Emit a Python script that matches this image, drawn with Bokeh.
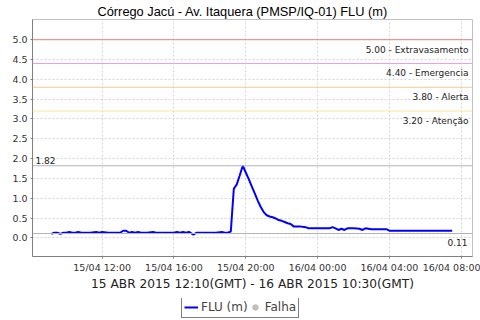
import math
import pandas as pd
from bokeh.plotting import figure
from bokeh.layouts import column
from bokeh.models import (Span, Label, Legend, LegendItem, FixedTicker,
                          DatetimeTickFormatter, Range1d, ColumnDataSource,
                          NumeralTickFormatter)
from bokeh.embed import file_html
from bokeh.resources import INLINE

# ---------------- data (local time, GMT-3) ----------------
times = [
    "2015-04-15 09:10", "2015-04-15 09:20", "2015-04-15 09:30", "2015-04-15 09:40",
    "2015-04-15 09:50", "2015-04-15 10:00", "2015-04-15 10:10", "2015-04-15 10:20",
    "2015-04-15 10:30", "2015-04-15 10:40", "2015-04-15 10:50", "2015-04-15 11:00",
    "2015-04-15 11:20", "2015-04-15 11:40", "2015-04-15 11:50", "2015-04-15 12:00",
    "2015-04-15 12:20", "2015-04-15 12:40", "2015-04-15 13:00", "2015-04-15 13:10",
    "2015-04-15 13:20", "2015-04-15 13:30", "2015-04-15 13:40", "2015-04-15 13:50",
    "2015-04-15 14:00", "2015-04-15 14:10", "2015-04-15 14:30", "2015-04-15 14:50",
    "2015-04-15 15:00", "2015-04-15 15:30", "2015-04-15 16:00", "2015-04-15 16:10",
    "2015-04-15 16:20", "2015-04-15 16:30", "2015-04-15 16:40", "2015-04-15 16:50",
    "2015-04-15 17:05", "2015-04-15 17:15", "2015-04-15 17:30", "2015-04-15 18:00",
    "2015-04-15 18:20", "2015-04-15 18:40", "2015-04-15 18:50", "2015-04-15 19:00",
    "2015-04-15 19:10", "2015-04-15 19:20", "2015-04-15 19:30", "2015-04-15 19:40",
    "2015-04-15 19:50", "2015-04-15 20:00", "2015-04-15 20:10", "2015-04-15 20:20",
    "2015-04-15 20:30", "2015-04-15 20:40", "2015-04-15 20:50", "2015-04-15 21:00",
    "2015-04-15 21:10", "2015-04-15 21:20", "2015-04-15 21:30", "2015-04-15 21:40",
    "2015-04-15 21:50", "2015-04-15 22:00", "2015-04-15 22:10", "2015-04-15 22:20",
    "2015-04-15 22:30", "2015-04-15 22:40", "2015-04-15 23:00", "2015-04-15 23:20",
    "2015-04-15 23:30", "2015-04-16 00:00", "2015-04-16 00:40", "2015-04-16 00:50",
    "2015-04-16 01:00", "2015-04-16 01:10", "2015-04-16 01:20", "2015-04-16 01:30",
    "2015-04-16 01:40", "2015-04-16 02:00", "2015-04-16 02:20", "2015-04-16 02:30",
    "2015-04-16 02:40", "2015-04-16 03:00", "2015-04-16 03:30", "2015-04-16 03:50",
    "2015-04-16 04:00", "2015-04-16 05:00", "2015-04-16 06:00", "2015-04-16 07:00",
    "2015-04-16 07:30",
]
levels = [
    0.10, 0.13, 0.13, 0.10,
    0.13, 0.13, 0.15, 0.13,
    0.13, 0.15, 0.13, 0.13,
    0.13, 0.15, 0.13, 0.15,
    0.13, 0.13, 0.13, 0.18,
    0.18, 0.13, 0.15, 0.13,
    0.15, 0.13, 0.13, 0.15,
    0.13, 0.13, 0.13, 0.15,
    0.13, 0.15, 0.13, 0.15,
    0.08, 0.13, 0.13, 0.13,
    0.13, 0.15, 0.13, 0.13,
    0.16, 1.24, 1.35, 1.58,
    1.82, 1.65, 1.48, 1.30,
    1.12, 0.94, 0.78, 0.65,
    0.57, 0.54, 0.52, 0.49,
    0.45, 0.43, 0.40, 0.37,
    0.35, 0.29, 0.29, 0.27,
    0.24, 0.24, 0.24, 0.27,
    0.24, 0.20, 0.23, 0.20,
    0.24, 0.24, 0.23, 0.20,
    0.24, 0.22, 0.22, 0.22,
    0.18, 0.18, 0.18, 0.18,
    0.18,
]
thresholds = [5.00, 4.40, 3.80, 3.20]
threshold_names = ["Extravasamento", "Emergencia", "Alerta", "Atenção"]
threshold_colors = ["#ee7e7e", "#ee9cee", "#f6c896", "#fae6a0"]
max_level = 1.82
last_level = 0.11
y_ticks = [0.0, 0.5, 1.0, 1.5, 2.0, 2.5, 3.0, 3.5, 4.0, 4.5, 5.0]
x_ticks = ["2015-04-15 12:00", "2015-04-15 16:00", "2015-04-15 20:00",
           "2015-04-16 00:00", "2015-04-16 04:00", "2015-04-16 08:00"]
x_start, x_end = "2015-04-15 08:07", "2015-04-16 08:38"
y_start, y_end = -0.47, 5.51
title_text = "Córrego Jacú - Av. Itaquera (PMSP/IQ-01) FLU (m)"
period_text = "15 ABR 2015 12:10(GMT) - 16 ABR 2015 10:30(GMT)"
series_name = "FLU (m)"
fail_name = "Falha"
fail_times = []      # no failure records in this period
fail_levels = []

def ms(s):
    return pd.Timestamp(s).value / 1e6

FONT = "DejaVu Sans"
LINE_COLOR = "#0000ff"
FAIL_COLOR = "#c0c0c0"

p = figure(width=480, height=298, frame_width=440, frame_height=237,
           x_axis_type="datetime", output_backend="svg", toolbar_location=None,
           title=title_text,
           x_range=Range1d(ms(x_start), ms(x_end)),
           y_range=Range1d(y_start, y_end),
           min_border_left=32, min_border_right=8, min_border_top=19,
           min_border_bottom=42)
p.background_fill_color = "white"
p.border_fill_color = "white"
p.outline_line_color = "#c0c0c0"

p.title.align = "left"
p.title.offset = 65
p.title.text_font = "Liberation Sans"
p.title.text_font_size = "12.8px"
p.title.text_font_style = "normal"
p.title.text_color = "#000000"
p.title.standoff = 2

# grids
for g in (p.xgrid, p.ygrid):
    g.grid_line_color = "#d4d4d4"
    g.grid_line_dash = "2 2"
    g.grid_line_width = 1

# axes
p.yaxis.ticker = FixedTicker(ticks=y_ticks)
p.yaxis.formatter = NumeralTickFormatter(format="0.0")
p.xaxis.ticker = FixedTicker(ticks=[ms(t) for t in x_ticks])
p.xaxis.formatter = DatetimeTickFormatter(hours="%d/%m %H:%M", days="%d/%m %H:%M",
                                          hourmin="%d/%m %H:%M", minutes="%d/%m %H:%M")
p.xaxis.axis_label = period_text
for ax in (p.xaxis[0], p.yaxis[0]):
    ax.axis_line_color = "#808080"
    ax.major_tick_line_color = "#808080"
    ax.major_tick_out = 2
    ax.major_tick_in = 0
    ax.minor_tick_line_color = None
    ax.major_label_text_font = FONT
    ax.major_label_text_font_size = "9.5px"
    ax.major_label_text_color = "#333333"
    ax.major_label_standoff = 3
p.xaxis.axis_label_text_font = FONT
p.xaxis.axis_label_text_font_size = "12.2px"
p.xaxis.axis_label_text_font_style = "normal"
p.xaxis.axis_label_text_color = "#222222"
p.xaxis.axis_label_standoff = 1

# threshold lines and labels
for t, name, c in zip(thresholds, threshold_names, threshold_colors):
    p.add_layout(Span(location=t, dimension="width", line_color=c, line_width=1))
    p.add_layout(Label(x=ms(x_end), y=t, x_offset=-4, y_offset=-5,
                       text=f"{t:.2f} - {name}", text_align="right",
                       text_baseline="top", text_font=FONT,
                       text_font_size="9px", text_color="#222222"))

# max / last lines
p.add_layout(Span(location=max_level, dimension="width", line_color="#b4b4b4", line_width=1))
p.add_layout(Span(location=last_level, dimension="width", line_color="#b4b4b4", line_width=1))
p.add_layout(Label(x=ms(x_start), y=max_level, x_offset=3, y_offset=2,
                   text=f"{max_level:.2f}", text_align="left", text_baseline="bottom",
                   text_font=FONT, text_font_size="9px", text_color="#222222"))
p.add_layout(Label(x=ms(x_end), y=last_level, x_offset=-5, y_offset=-5,
                   text=f"{last_level:.2f}", text_align="right", text_baseline="top",
                   text_font=FONT, text_font_size="9px", text_color="#222222"))

src = ColumnDataSource(dict(t=[ms(s) for s in times], v=levels))
p.line("t", "v", source=src, line_color=LINE_COLOR, line_width=2)
fail_src = ColumnDataSource(dict(t=[ms(s) for s in fail_times], v=fail_levels))
p.scatter("t", "v", source=fail_src, size=9, color=FAIL_COLOR)

# ---------------- legend strip ----------------
q = figure(width=480, height=22, output_backend="svg", toolbar_location=None,
           x_range=Range1d(0, 1), y_range=Range1d(0, 1),
           min_border=0, x_axis_location=None, y_axis_location=None)
q.outline_line_color = None
q.xgrid.visible = False
q.ygrid.visible = False
q.background_fill_color = "white"
q.border_fill_color = "white"
leg_line = q.line(x=[math.nan], y=[math.nan], line_color=LINE_COLOR, line_width=2)
leg_fail = q.scatter(x=[math.nan], y=[math.nan], size=9, color=FAIL_COLOR)

legend = Legend(items=[LegendItem(label=series_name, renderers=[leg_line]),
                       LegendItem(label=fail_name, renderers=[leg_fail])],
                orientation="horizontal", location=(149, 2))
legend.border_line_color = "black"
legend.border_line_width = 1
legend.background_fill_color = "white"
legend.label_text_font = FONT
legend.label_text_font_size = "12px"
legend.padding = 2
legend.spacing = 0
legend.margin = 0
legend.glyph_width = 14
legend.glyph_height = 16
legend.label_standoff = 3
legend.label_height = 16
q.add_layout(legend, "center")

layout = column(p, q, spacing=0)
open("out.html", "w").write(file_html(layout, INLINE))
